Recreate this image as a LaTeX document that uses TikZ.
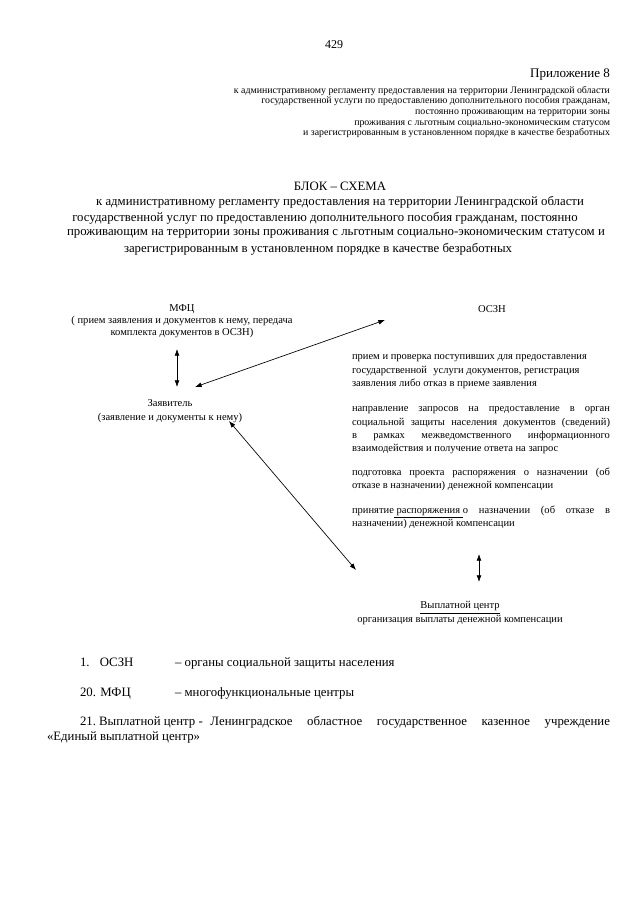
\documentclass[tikz,border=0pt]{standalone}
\usepackage{fontspec}
\setmainfont{Liberation Serif}
\usetikzlibrary{arrows.meta}
\tikzset{
  txt/.style={inner sep=0pt, outer sep=0pt},
  hdr/.style={txt, font=\fontsize{7.4}{8.05}\selectfont, align=right, anchor=north east},
  ttl/.style={txt, font=\fontsize{9.6}{11.8}\selectfont},
  dia/.style={txt, font=\fontsize{7.9}{10}\selectfont},
  djust/.style={dia, text width=193.5pt, align=justify, anchor=north west},
  foot/.style={txt, font=\fontsize{9.6}{11.5}\selectfont},
  link/.style={line width=0.5pt, {Latex[length=5pt,width=3.6pt]}-{Latex[length=5pt,width=3.6pt]}}
}
\begin{document}
\begin{tikzpicture}[x=0.75pt,y=-0.75pt]
\useasboundingbox[fill=white] (0,0) rectangle (640,905);
% page number and appendix header
\node[txt, font=\fontsize{9}{10}\selectfont] (pg) at (334,45) {429};
\node[txt, font=\fontsize{9.8}{11}\selectfont, anchor=base east] (app) at (610,78) {Приложение 8};
\node[hdr] (hd) at (610,86) {к административному регламенту предоставления на территории Ленинградской области\\
государственной услуги  по предоставлению  дополнительного пособия гражданам,\\
постоянно проживающим на территории зоны\\
проживания с льготным социально-экономическим статусом\\
и зарегистрированным в установленном порядке в качестве безработных};
% title
\node[ttl] (t0) at (340,186) {БЛОК – СХЕМА};
\node[ttl] (t1) at (340,202) {к  административному регламенту предоставления на территории Ленинградской области};
\node[ttl] (t2) at (325,218) {государственной услуг по  предоставлению  дополнительного пособия гражданам, постоянно};
\node[ttl] (t3) at (336,234) {проживающим на территории зоны проживания с льготным социально-экономическим статусом и};
\node[ttl] (t4) at (318,249) {зарегистрированным в установленном порядке в качестве безработных};
% MFC
\node[dia, font=\fontsize{7.9}{9}\selectfont, align=center] (mfc) at (182,321) {МФЦ\\( прием заявления и документов к нему, передача\\комплекта документов в ОСЗН)};
% Applicant
\node[dia, align=center] (app2) at (170,411) {Заявитель\\(заявление и документы к нему)};
% OSZN
\node[dia] (oszn) at (492,309) {ОСЗН};
\node[djust] (b1) at (352,355) {прием и  проверка  поступивших для предоставления\\государственной\hspace{0.6em}услуги документов, регистрация\\заявления либо отказ в приеме заявления};
\node[djust] (b2) at (352,407) {направление запросов на предоставление в орган\linebreak социальной защиты населения документов (сведений)\linebreak в рамках межведомственного информационного\linebreak взаимодействия и получение ответа на запрос};
\node[djust] (b3) at (352,468) {подготовка проекта распоряжения о назначении (об\linebreak отказе в назначении) денежной компенсации};
\node[djust] (b4) at (352,506) {принятие\underline{\ распоряжения\ }о назначении (об отказе в\linebreak назначении) денежной компенсации};
% Payment centre
\node[dia, align=center] (pay) at (460,613) {\underline{Выплатной центр}\\организация выплаты денежной компенсации};
% arrow end points
\coordinate (m1) at (177,349);
\coordinate (m2) at (177,387);
\coordinate (d1) at (195,387);
\coordinate (d2) at (385,320);
\coordinate (l1) at (229,421);
\coordinate (l2) at (356,570);
\coordinate (p1) at (479,554);
\coordinate (p2) at (479,582);
\draw[link] (m1) -- (m2);
\draw[link] (d1) -- (d2);
\draw[link] (l1) -- (l2);
\draw[link] (p1) -- (p2);
% footer
\node[foot, anchor=base west] (f1) at (80,666) {1.\hspace{0.8em}ОСЗН};
\node[foot, anchor=base west] (f1b) at (175,666) {– органы социальной защиты населения};
\node[foot, anchor=base west] (f2) at (80,696) {20. МФЦ};
\node[foot, anchor=base west] (f2b) at (175,696) {– многофункциональные центры};
\node[foot, text width=422.25pt, align=justify, anchor=north west] (f3) at (47,716) {\hspace*{24.75pt}21.\hspace{0.25em}Выплатной\hspace{0.25em}центр\hspace{0.25em}-\hspace{0.6em}Ленинградское  областное государственное казенное  учреждение\linebreak «Единый выплатной центр»};
\end{tikzpicture}
\end{document}
